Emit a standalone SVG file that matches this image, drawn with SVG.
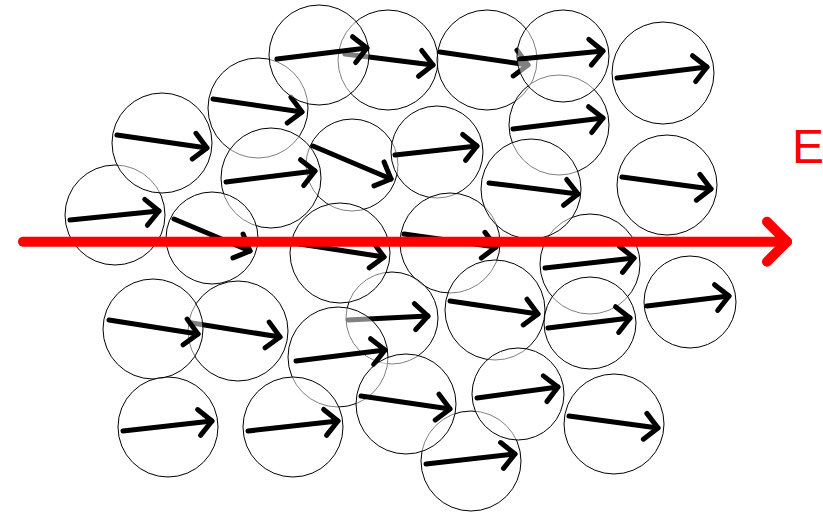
<svg xmlns="http://www.w3.org/2000/svg" width="823" height="513" viewBox="0 0 823 513">
<style>
.p circle{fill:#fff;fill-opacity:0.5;stroke:#000;stroke-width:1}
.p line{stroke:#000;stroke-width:5;stroke-linecap:round;marker-end:url(#ah)}
.field{stroke:#f00;stroke-width:10;stroke-linecap:round;marker-end:url(#ahr)}
.lbl{font-family:"Liberation Sans",Arial,sans-serif;font-size:48px;fill:#f00}
</style>
<defs>
<marker id="ah" markerUnits="userSpaceOnUse" orient="auto" refX="0" refY="0" markerWidth="40" markerHeight="40" overflow="visible">
<path d="M-13,-13 L0,0 L-13,13" fill="none" stroke="#000" stroke-width="5" stroke-linecap="round" stroke-linejoin="round"/>
</marker>
<marker id="ahr" markerUnits="userSpaceOnUse" orient="auto" refX="0" refY="0" markerWidth="60" markerHeight="60" overflow="visible">
<path d="M-20,-20 L0,0 L-20,20" fill="none" stroke="#f00" stroke-width="10" stroke-linecap="round" stroke-linejoin="round"/>
</marker>
</defs>
<g id="particles">
<g id="pE" class="p"><circle cx="115" cy="215" r="50"/><line x1="70" y1="220" x2="159" y2="211"/></g>
<g id="pC" class="p"><circle cx="162" cy="143" r="50"/><line x1="117" y1="135" x2="207" y2="148"/></g>
<g id="pB" class="p"><circle cx="258" cy="108" r="50"/><line x1="213" y1="99" x2="302" y2="112"/></g>
<g id="pG" class="p"><circle cx="388" cy="60" r="50"/><line x1="345" y1="54" x2="433" y2="65"/></g>
<g id="pA" class="p"><circle cx="319" cy="55" r="50"/><line x1="277" y1="59" x2="367" y2="48"/></g>
<g id="pK" class="p"><circle cx="352" cy="165" r="46"/><line x1="313" y1="146" x2="391" y2="179"/></g>
<g id="pD" class="p"><circle cx="271" cy="178" r="50"/><line x1="226" y1="182" x2="315" y2="171"/></g>
<g id="pF" class="p"><circle cx="212" cy="238" r="46"/><line x1="174" y1="219" x2="250" y2="251"/></g>
<g id="pL" class="p"><circle cx="437" cy="152" r="46"/><line x1="395" y1="155" x2="477" y2="146"/></g>
<g id="pH" class="p"><circle cx="487" cy="60" r="50"/><line x1="440" y1="52" x2="528" y2="65"/></g>
<g id="pJ" class="p"><circle cx="559" cy="125" r="50"/><line x1="513" y1="129" x2="603" y2="118"/></g>
<g id="pI" class="p"><circle cx="563" cy="56" r="46"/><line x1="520" y1="59" x2="603" y2="51"/></g>
<g id="pN" class="p"><circle cx="450" cy="243" r="50"/><line x1="404" y1="234" x2="496" y2="247"/></g>
<g id="pP" class="p"><circle cx="590" cy="264" r="50"/><line x1="545" y1="268" x2="634" y2="258"/></g>
<g id="pM" class="p"><circle cx="531" cy="189" r="50"/><line x1="489" y1="183" x2="578" y2="194"/></g>
<g id="pZ" class="p"><circle cx="590" cy="323" r="46"/><line x1="548" y1="328" x2="630" y2="318"/></g>
<g id="pY" class="p"><circle cx="495" cy="310" r="50"/><line x1="450" y1="301" x2="538" y2="314"/></g>
<g id="pX" class="p"><circle cx="392" cy="318" r="46"/><line x1="348" y1="320" x2="428" y2="316"/></g>
<g id="pO" class="p"><circle cx="340" cy="253" r="50"/><line x1="293" y1="243" x2="384" y2="257"/></g>
<g id="pW" class="p"><circle cx="338" cy="357" r="50"/><line x1="296" y1="361" x2="385" y2="350"/></g>
<g id="pV" class="p"><circle cx="293" cy="427" r="50"/><line x1="248" y1="431" x2="338" y2="421"/></g>
<g id="pAE" class="p"><circle cx="471" cy="461" r="50"/><line x1="426" y1="464" x2="515" y2="454"/></g>
<g id="pAD" class="p"><circle cx="406" cy="404" r="50"/><line x1="361" y1="396" x2="450" y2="409"/></g>
<g id="pAC" class="p"><circle cx="518" cy="394" r="46"/><line x1="477" y1="398" x2="558" y2="387"/></g>
<g id="pT" class="p"><circle cx="238" cy="331" r="50"/><line x1="192" y1="323" x2="280" y2="337"/></g>
<g id="pS" class="p"><circle cx="153" cy="329" r="50"/><line x1="109" y1="320" x2="198" y2="334"/></g>
<g id="pQ" class="p"><circle cx="663" cy="73" r="51"/><line x1="617" y1="78" x2="707" y2="67"/></g>
<g id="pR" class="p"><circle cx="667" cy="185" r="50"/><line x1="622" y1="177" x2="711" y2="189"/></g>
<g id="pAA" class="p"><circle cx="690" cy="302" r="46"/><line x1="647" y1="306" x2="729" y2="296"/></g>
<g id="pAB" class="p"><circle cx="614" cy="424" r="50"/><line x1="569" y1="416" x2="658" y2="428"/></g>
<g id="pU" class="p"><circle cx="168" cy="427" r="50"/><line x1="123" y1="431" x2="212" y2="421"/></g>
</g>
<g id="connectors">
<line class="field" x1="23" y1="241.7" x2="787" y2="241.7"/>
</g>
<g id="label-E"><text class="lbl" x="792" y="163">E</text></g>
</svg>
